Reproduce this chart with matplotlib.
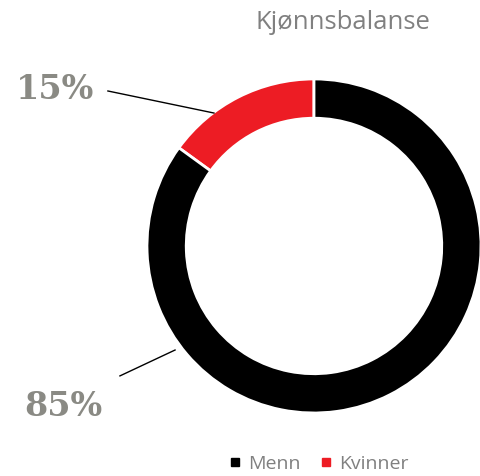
import numpy as np
import matplotlib.pyplot as plt
from matplotlib.lines import Line2D

categories = ['Menn', 'Kvinner']
shares = [85, 15]
colors = ['#000000', '#ED1C24']

grey = '#808080'
label_grey = '#8a8a84'

fig = plt.figure(figsize=(4.81, 4.76), dpi=100)
ax = fig.add_axes([0.3056, 0.1324, 0.6944, 0.7017])

# Kvinner first, counterclockwise from the top, so the red slice sits at upper left
wedges, _ = ax.pie(shares[::-1], colors=colors[::-1], startangle=90, counterclock=True,
                   radius=1.0, wedgeprops=dict(width=0.235, edgecolor='white', linewidth=2))
ax.set_xlim(-1, 1)
ax.set_ylim(-1, 1)
ax.set_aspect('equal')

# percentage labels with leader lines
pct = ['%d%%' % v for v in shares]
ax.plot([-1.234, -0.599], [0.928, 0.796], color='black', lw=1, clip_on=False)
ax.plot([-1.162, -0.832], [-0.778, -0.623], color='black', lw=1, clip_on=False)
ax.text(-1.55, 0.934, pct[1], ha='center', va='center', fontsize=24, fontweight='bold',
        family='DejaVu Serif', color=label_grey, clip_on=False)
ax.text(-1.503, -0.964, pct[0], ha='center', va='center', fontsize=24, fontweight='bold',
        family='DejaVu Serif', color=label_grey, clip_on=False)

fig.text(0.713, 0.952, 'Kjønnsbalanse', ha='center', va='center', fontsize=18.5,
         family='Open Sans', color=grey)

handles = [Line2D([], [], marker='s', linestyle='', markersize=6, color=c) for c in colors]
fig.legend(handles, categories, loc='center', bbox_to_anchor=(0.663, 0.025), ncol=2,
           frameon=False, labelcolor=grey, handlelength=0.6,
           handletextpad=0.4, columnspacing=1.0, prop={'family': 'Open Sans', 'size': 14})

fig.savefig('out.png', dpi=100)
